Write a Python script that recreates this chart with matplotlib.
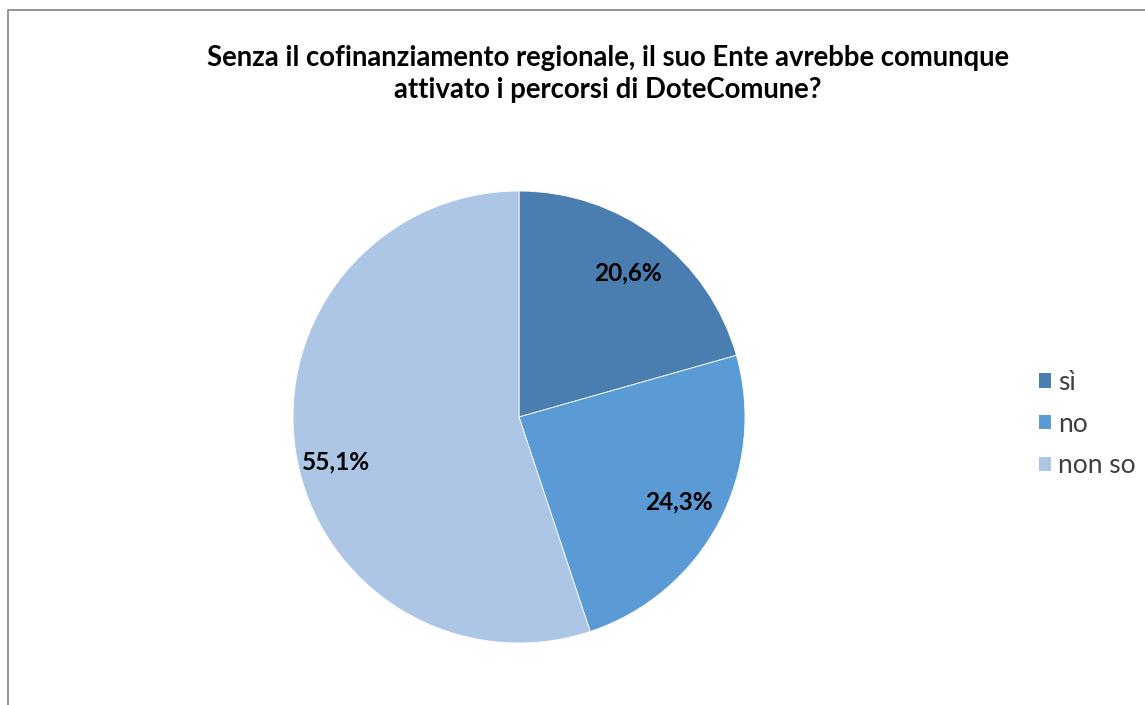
import matplotlib
matplotlib.use("Agg")
from matplotlib import pyplot as plt
from matplotlib.patches import Rectangle

# data
categories = ["sì", "no", "non so"]
shares = [20.6, 24.3, 55.1]
slice_colors = ["#4A7EB1", "#5B9BD5", "#AEC6E6"]

title = ("Senza il cofinanziamento regionale, il suo Ente avrebbe comunque\n"
         "attivato i percorsi di DoteComune?")

W, H = 1145, 705
fig = plt.figure(figsize=(W / 100, H / 100), dpi=100, facecolor="w")
plt.rcParams["font.family"] = ["Lato", "DejaVu Sans"]

# chart frame (only left and top edges visible in the crop)
fig.add_artist(Rectangle((7.5 / W, -0.1), 1.2, (H - 9.5) / H + 0.1, transform=fig.transFigure,
                         fill=False, edgecolor="#8c8c8c", linewidth=1.3))

fig.text(608 / W, 1 - 74 / H, title, ha="center", va="center", fontsize=19.8,
         fontweight="bold", linespacing=1.32, color="#000000")

# pie axes: centre (519, 417) px, radius 226 px
cx, cy, r = 519, 417, 226
ax = fig.add_axes([(cx - r) / W, (H - cy - r) / H, 2 * r / W, 2 * r / H])
wedges, texts, autotexts = ax.pie(
    shares, colors=slice_colors, startangle=90, counterclock=False, radius=1.0,
    autopct=lambda p: "{:.1f}%".format(p).replace(".", ","), pctdistance=0.8,
    wedgeprops={"edgecolor": "w", "linewidth": 0.6},
    textprops={"fontsize": 17.6, "fontweight": "bold", "color": "k"})
# excel "best fit" puts the big slice label a bit lower
x3, y3 = autotexts[2].get_position()
autotexts[2].set_position((x3 - 0.02, y3 - 0.07))
ax.set_xlim(-1, 1)
ax.set_ylim(-1, 1)
ax.set_aspect("equal")
ax.axis("off")

leg = fig.legend(wedges, categories, loc="center left", bbox_to_anchor=(1039 / W, 1 - 424 / H),
                 frameon=False, fontsize=19, handlelength=0.46, handleheight=0.46,
                 handletextpad=0.25, labelspacing=0.63, borderaxespad=0, borderpad=0)
for t in leg.get_texts():
    t.set_color("#404040")
for h in leg.legend_handles:
    h.set_edgecolor("none")

fig.savefig("out.png", dpi=100, facecolor="w")
